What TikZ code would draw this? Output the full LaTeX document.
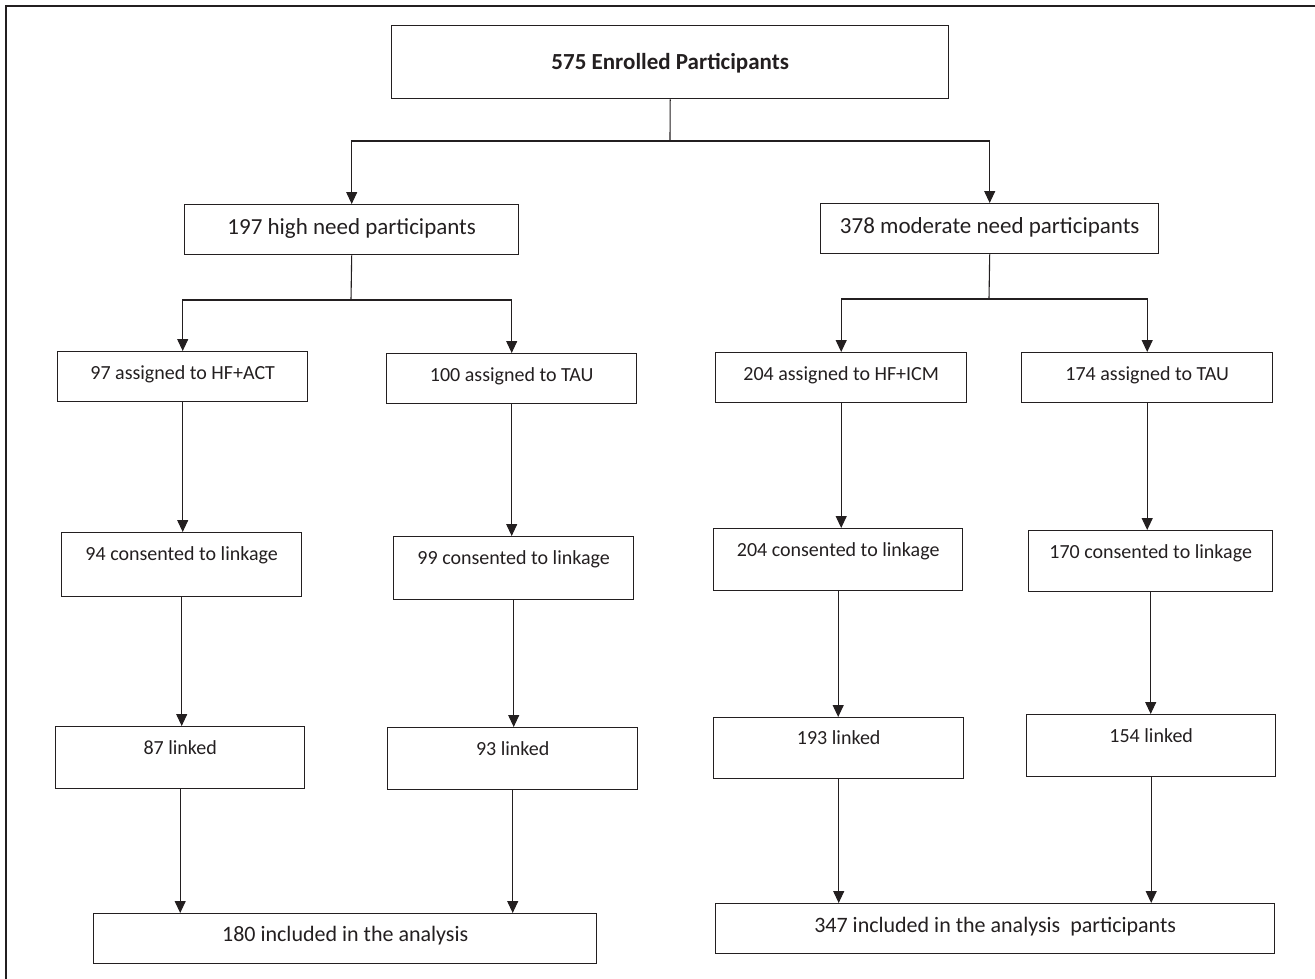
\documentclass[tikz,border=0pt]{standalone}
\usepackage{fontspec}
\setmainfont{Carlito}
\usetikzlibrary{arrows.meta}
\definecolor{ink}{HTML}{231F20}

\begin{document}
\begin{tikzpicture}[x=1pt,y=-1pt,>={Triangle[length=12pt,width=11pt]},
        line width=1.1pt,draw=ink,text=ink,
        main node/.style={rectangle,draw=ink,line width=1.4pt,inner sep=0pt,anchor=north west,
          text height=28pt,font=\fontsize{20}{24}\selectfont},
        big node/.style={main node,font=\fontsize{23}{27}\selectfont}]

    \useasboundingbox (0,0) rectangle (1315,979);
    \draw[line width=2pt] (6,979) -- (6,6) -- (1315,6);

    \node[big node,minimum width=557pt,text height=44pt,text depth=29pt] (top) at (391,25) {\textbf{575 Enrolled Participants}};
    \node[big node,minimum width=334pt,text height=30pt,text depth=20pt] (high) at (184,204) {197 high need participants};
    \node[big node,minimum width=338pt,text height=30pt,text depth=20pt] (mod) at (820,203) {378 moderate need participants};

    \node[main node,minimum width=250pt,text depth=22pt] (hfact) at (57,351) {97 assigned to HF+ACT};
    \node[main node,minimum width=250pt,text depth=22pt] (tauh) at (386,353) {100 assigned to TAU};
    \node[main node,minimum width=251pt,text depth=22pt] (hficm) at (715,352) {204 assigned to HF+ICM};
    \node[main node,minimum width=251pt,text depth=22pt] (taum) at (1021,352) {174 assigned to TAU};

    \node[main node,minimum width=240pt,text depth=36pt] (consA) at (61,532) {94 consented to linkage};
    \node[main node,minimum width=240pt,text depth=35pt] (consB) at (393,536) {99 consented to linkage};
    \node[main node,minimum width=249pt,text depth=34pt] (consC) at (713,528) {204 consented to linkage};
    \node[main node,minimum width=244pt,text depth=33pt] (consD) at (1028,530) {170 consented to linkage};

    \node[main node,minimum width=249pt,text depth=34pt] (linkA) at (55,726) {87 linked};
    \node[main node,minimum width=250pt,text depth=34pt] (linkB) at (387,727) {93 linked};
    \node[main node,minimum width=250pt,text depth=34pt,text height=27pt] (linkC) at (713,717) {193 linked};
    \node[main node,minimum width=249pt,text depth=34pt] (linkD) at (1026,714) {154 linked};

    \node[main node,minimum width=503pt,text depth=22pt,font=\fontsize{22}{26}\selectfont] (inclH) at (93,913) {180 included in the analysis};
    \node[main node,minimum width=559pt,text depth=21pt,text height=29pt,font=\fontsize{22}{26}\selectfont] (inclM) at (715,903) {347 included in the analysis\ \ participants};

    \coordinate (split) at (670,141);
    \coordinate (splitH) at (351,300);
    \coordinate (splitM) at (989,299);

    \draw (top.south) -- (split);
    \draw[<->] (high.north) |- (split) -| (mod.north);
    \draw (high.south) -- (splitH);
    \draw[<->] (hfact.north) |- (splitH) -| (tauh.north);
    \draw (mod.south) -- (splitM);
    \draw[<->] (hficm.north) |- (splitM) -| (taum.north);

    \path[->]
    (hfact.south) edge (hfact.south |- consA.north)
    (tauh.south) edge (tauh.south |- consB.north)
    (hficm.south) edge (hficm.south |- consC.north)
    (taum.south) edge (taum.south |- consD.north)
    (consA.south) edge (consA.south |- linkA.north)
    (consB.south) edge (consB.south |- linkB.north)
    (consC.south) edge (consC.south |- linkC.north)
    (consD.south) edge (consD.south |- linkD.north)
    (linkA.south) edge (linkA.south |- inclH.north)
    (linkB.south) edge (linkB.south |- inclH.north)
    (linkC.south) edge (linkC.south |- inclM.north)
    (linkD.south) edge (linkD.south |- inclM.north);
\end{tikzpicture}
\end{document}
